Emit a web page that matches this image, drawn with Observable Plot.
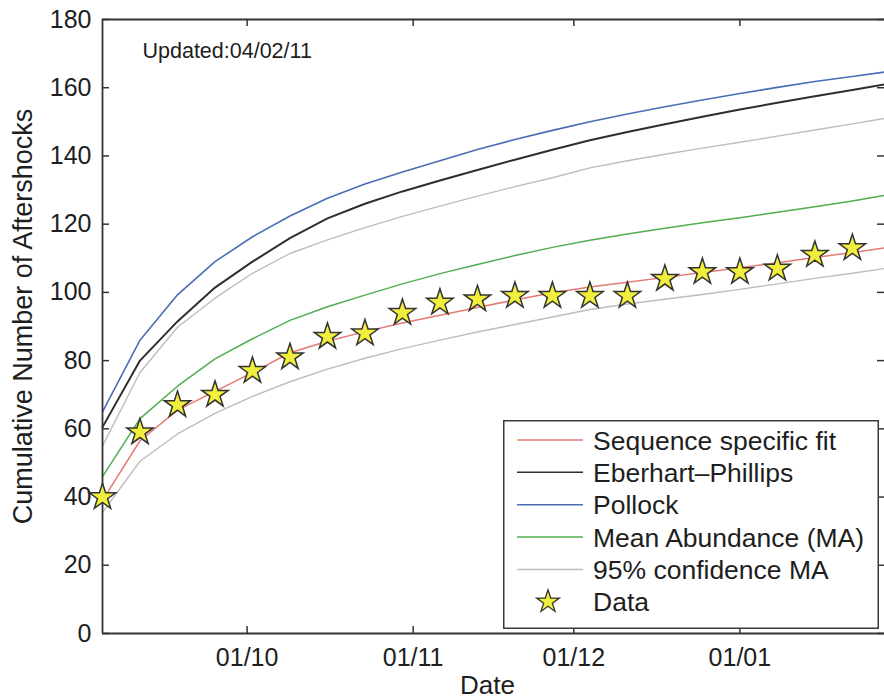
<!DOCTYPE html>
<html>
<head>
<meta charset="utf-8">
<script src="https://cdn.jsdelivr.net/npm/d3@7"></script>
<script src="https://cdn.jsdelivr.net/npm/@observablehq/plot@0.6"></script>
<style>
  body { margin: 0; background: #fff; }
  #wrap { position: relative; width: 884px; height: 700px; overflow: hidden; font-family: "Liberation Sans", Arial, Helvetica, sans-serif; }
  #legend { position: absolute; left: 503px; top: 420px; }
</style>
</head>
<body>
<div id="wrap"></div>
<script>
// ---------- data ----------
const weekDates = ["2010-09-04","2010-09-11","2010-09-18","2010-09-25","2010-10-02","2010-10-09","2010-10-16",
  "2010-10-23","2010-10-30","2010-11-06","2010-11-13","2010-11-20","2010-11-27","2010-12-04","2010-12-11",
  "2010-12-18","2010-12-25","2011-01-01","2011-01-08","2011-01-15","2011-01-22","2011-01-28"];
const observedCounts = [40,59,67,70,77,81,87,88,94,97,98,99,99,99,99,104,106,106,107,111,113];
const sequenceFit    = [39,56.5,65.5,71,76.5,82.3,85.7,88.5,91,93.3,95.6,97.8,99.9,101.6,103,104.4,105.8,107.2,108.7,110.2,111.7,113];
const eberhartPhillips = [60.5,80,91.5,101.4,109,115.9,121.7,126,129.6,132.8,135.9,138.9,141.8,144.6,147,149.3,151.5,153.6,155.6,157.5,159.3,161];
const pollock        = [65,86,99.3,109,116.3,122.4,127.6,131.8,135.3,138.6,141.9,144.8,147.5,150,152.3,154.4,156.4,158.3,160.1,161.8,163.3,164.6];
const meanAbundance  = [46,63,72.5,80.5,86.4,91.8,95.8,99.2,102.5,105.5,108.2,110.8,113.2,115.3,117.1,118.8,120.4,121.9,123.5,125.1,126.8,128.4];
const confidenceUpper = [55,76.5,89.8,98.3,105.6,111.4,115.4,119,122.3,125.3,128.2,131,133.6,136.5,138.6,140.5,142.3,144,145.8,147.6,149.4,151];
const confidenceLower = [35.5,50.5,58.5,64.5,69.5,73.8,77.5,80.7,83.5,86,88.4,90.6,92.8,95,96.6,98,99.4,100.9,102.5,104.1,105.6,107];

const xDomainDates = ["2010-09-04","2011-01-28"];
const xTickDates = ["2010-10-01","2010-11-01","2010-12-01","2011-01-01"];
const yTicks = [0,20,40,60,80,100,120,140,160,180];
const updatedLabel = "Updated:04/02/11";
const xLabel = "Date";
const yLabel = "Cumulative Number of Aftershocks";
const legendNames = ["Sequence specific fit","Eberhart\u2013Phillips","Pollock","Mean Abundance (MA)","95% confidence MA","Data"];

// ---------- styles ----------
const C = {
  fit: "#e57a72", ep: "#2e2e2e", pollock: "#4a6db5", ma: "#4fae4f", conf: "#c4baba",
  starFill: "#f2ee3c", starStroke: "#333", axis: "#333", text: "#1e1e1e"
};
const W = 884, H = 700, mL = 102, mR = 0, mT = 19, mB = 67;
const plotW = W - mL - mR, plotH = H - mT - mB, tickLen = 7;

const parse = d3.utcParse("%Y-%m-%d");
const rows = values => weekDates.map((d, i) => ({date: parse(d), value: values[i]}));
const dataRows = observedCounts.map((v, i) => ({date: parse(weekDates[i]), value: v}));
const xTicks = xTickDates.map(parse);

const chart = Plot.plot({
  width: W, height: H,
  marginLeft: mL, marginRight: mR, marginTop: mT, marginBottom: mB,
  style: {fontFamily: '"Liberation Sans", Arial, Helvetica, sans-serif', fontSize: "25px", color: C.text, background: "transparent"},
  x: {type: "utc", domain: xDomainDates.map(parse)},
  y: {domain: [0, 180]},
  marks: [
    // curves
    Plot.line(rows(confidenceLower), {x: "date", y: "value", stroke: C.conf, strokeWidth: 1.4}),
    Plot.line(rows(confidenceUpper), {x: "date", y: "value", stroke: C.conf, strokeWidth: 1.4}),
    Plot.line(rows(meanAbundance), {x: "date", y: "value", stroke: C.ma, strokeWidth: 1.5}),
    Plot.line(rows(pollock), {x: "date", y: "value", stroke: C.pollock, strokeWidth: 1.6}),
    Plot.line(rows(eberhartPhillips), {x: "date", y: "value", stroke: C.ep, strokeWidth: 2}),
    Plot.line(rows(sequenceFit), {x: "date", y: "value", stroke: C.fit, strokeWidth: 1.5}),
    // frame (left, top, bottom)
    Plot.ruleY([0, 180], {stroke: C.axis, strokeWidth: 1.8}),
    Plot.ruleX([parse(xDomainDates[0])], {stroke: C.axis, strokeWidth: 1.8}),
    // inward ticks
    Plot.tickX(xTicks, {x: d => d, stroke: C.axis, strokeWidth: 1.5, insetTop: plotH - tickLen}),
    Plot.tickX(xTicks, {x: d => d, stroke: C.axis, strokeWidth: 1.5, insetBottom: plotH - tickLen}),
    Plot.tickY(yTicks, {y: d => d, stroke: C.axis, strokeWidth: 1.5, insetRight: plotW - tickLen}),
    Plot.tickY(yTicks, {y: d => d, stroke: C.axis, strokeWidth: 1.5, insetLeft: plotW - tickLen}),
    // tick labels
    Plot.axisX({ticks: xTicks, tickFormat: d3.utcFormat("%d/%m"), tickSize: 0, tickPadding: 15, fontSize: 25, label: null, fill: C.text}),
    Plot.axisY({ticks: yTicks, tickSize: 0, tickPadding: 11, fontSize: 25, label: null, fill: C.text}),
    // axis titles and note
    Plot.text([xLabel], {text: d => d, frameAnchor: "bottom", dx: -6, dy: 52, textAnchor: "middle", lineAnchor: "middle", fontSize: 26, fill: C.text}),
    Plot.text([yLabel], {text: d => d, frameAnchor: "left", dx: -79, dy: -10, rotate: -90, textAnchor: "middle", lineAnchor: "middle", fontSize: 27, fill: C.text}),
    Plot.text([updatedLabel], {text: d => d, frameAnchor: "top-left", dx: 40, dy: 32, textAnchor: "start", lineAnchor: "middle", fontSize: 21.5, fill: C.text}),
    // observed data
    Plot.dot(dataRows, {x: "date", y: "value", symbol: "star", r: 8.3, fill: C.starFill, stroke: C.starStroke, strokeWidth: 1.5})
  ]
});
document.getElementById("wrap").appendChild(chart);

// ---------- legend (inside the axes, lower right) ----------
const legendW = 376, legendH = 209, rowGap = 32.35, firstRow = 20;
const legendStyles = [
  {type: "line", color: C.fit, w: 1.5},
  {type: "line", color: C.ep, w: 1.5},
  {type: "line", color: C.pollock, w: 1.5},
  {type: "line", color: C.ma, w: 1.5},
  {type: "line", color: C.conf, w: 1.5},
  {type: "star"}
];
const lg = d3.select("#wrap").append("svg").attr("id", "legend")
  .attr("width", legendW).attr("height", legendH);
lg.append("rect").attr("x", 0.75).attr("y", 0.75)
  .attr("width", legendW - 1.5).attr("height", legendH - 1.5)
  .attr("fill", "#fff").attr("stroke", "#3a3a3a").attr("stroke-width", 1.5);
legendNames.forEach((name, i) => {
  const cy = firstRow + i * rowGap, s = legendStyles[i];
  if (s.type === "line") {
    lg.append("line").attr("x1", 14).attr("x2", 80).attr("y1", cy).attr("y2", cy)
      .attr("stroke", s.color).attr("stroke-width", s.w);
  } else {
    lg.append("path").attr("d", d3.symbol(d3.symbolStar, 160)())
      .attr("transform", `translate(45,${cy})`)
      .attr("fill", C.starFill).attr("stroke", C.starStroke).attr("stroke-width", 1.3);
  }
  lg.append("text").attr("x", 90).attr("y", cy + 9.5)
    .attr("font-family", '"Liberation Sans", Arial, Helvetica, sans-serif')
    .attr("font-size", 26.5).attr("fill", C.text).text(name);
});
</script>
</body>
</html>
